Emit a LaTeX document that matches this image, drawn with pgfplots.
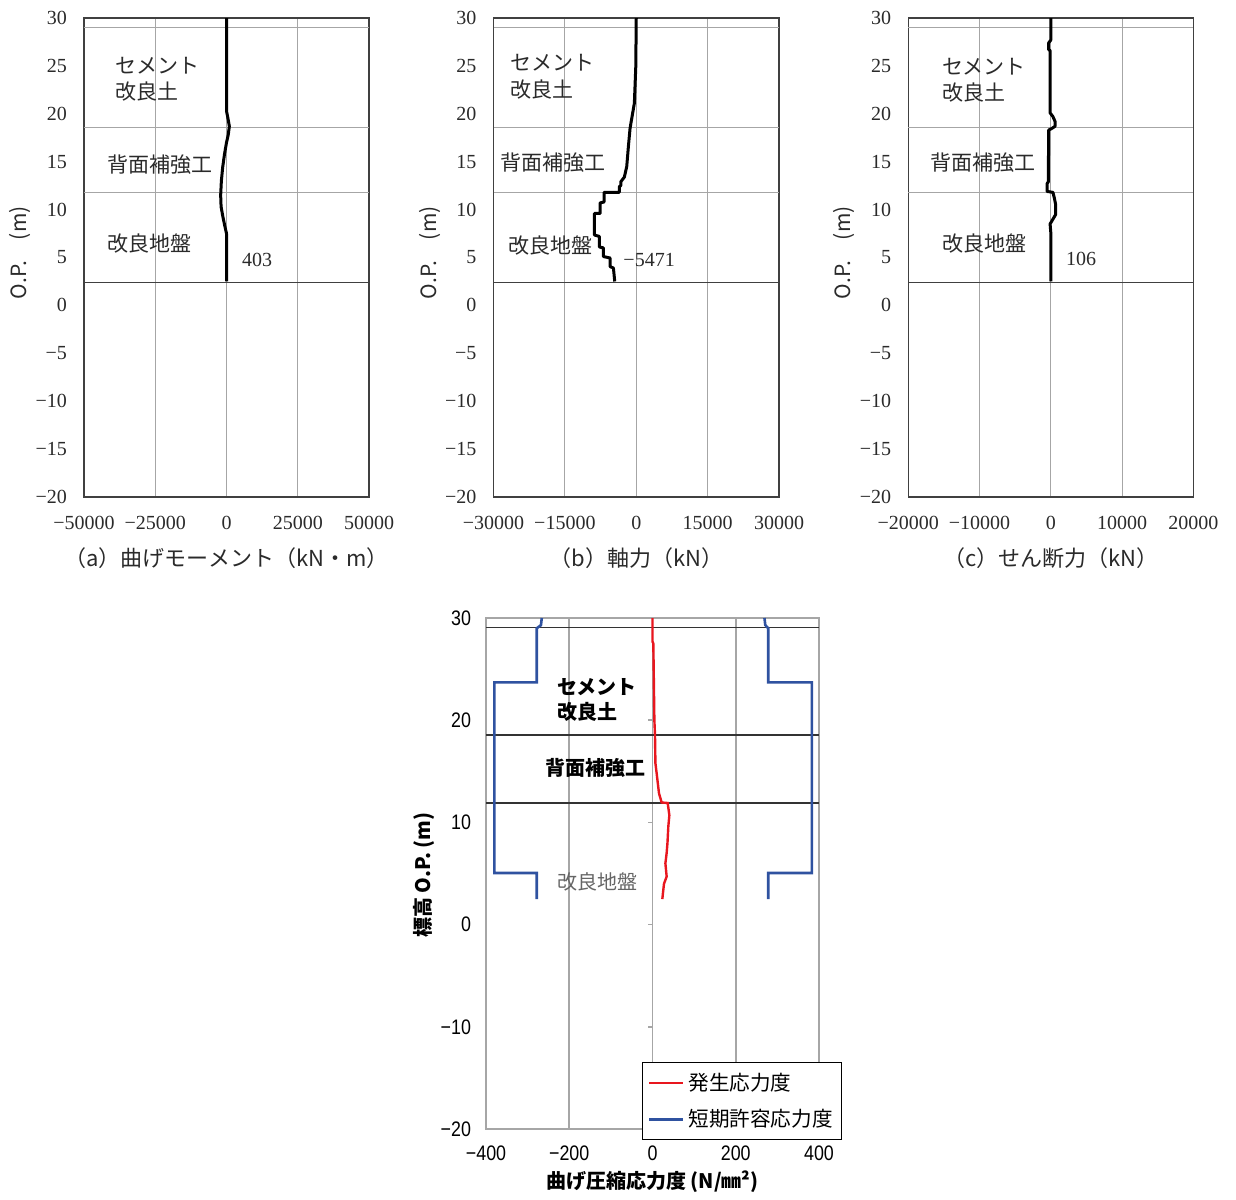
\documentclass[border=0pt]{standalone}
\usepackage{pgfplots}
\pgfplotsset{compat=1.18}
\usepackage{fontspec}
\setmainfont{Liberation Serif}
\newfontfamily\cjk{Noto Sans CJK JP}
\newfontfamily\sanc[FakeStretch=0.85]{Liberation Sans}
\definecolor{framec}{HTML}{404040}
\definecolor{gridc}{HTML}{A6A6A6}
\definecolor{bl}{HTML}{2F52A0}
\definecolor{rd}{HTML}{E8161E}
\definecolor{txt}{HTML}{2A2A2A}

\pgfplotsset{
 topstyle/.style={
  scale only axis, width=142.5pt, height=239.5pt,
  ymin=-20, ymax=30, ytick={-20,-15,...,30},
  yticklabels={−20,−15,−10,−5,0,5,10,15,20,25,30},
  scaled x ticks=false, scaled y ticks=false,
  axis line style={framec, line width=0.6pt},
  xmajorgrids, grid style={gridc, line width=0.5pt},
  major tick length=0pt,
  tick label style={font=\fontsize{10}{12}\selectfont, text=txt},
  yticklabel style={xshift=-5pt},
  xticklabel style={yshift=-6pt},
  clip=false,
 },
 curve/.style={black, line width=1.5pt, line join=round},
}
\newcommand\toplayers[2]{%
 \draw[gridc, line width=0.5pt] (axis cs:#1,29) -- (axis cs:#2,29);
 \draw[gridc, line width=0.5pt] (axis cs:#1,18.6) -- (axis cs:#2,18.6);
 \draw[gridc, line width=0.5pt] (axis cs:#1,11.8) -- (axis cs:#2,11.8);
 \draw[framec, line width=0.6pt] (axis cs:#1,2.4) -- (axis cs:#2,2.4);
}
\newcommand\jp{\cjk\fontsize{10.5}{13.4}\selectfont\color{txt}}
\newcommand\jps{\cjk\fontsize{11}{13}\selectfont\color{txt}}

\begin{document}
\begin{tikzpicture}
\path (0,0) rectangle (618pt,-598.5pt);

% (a)
\begin{axis}[topstyle, at={(42pt,-9pt)}, anchor=north west,
  xmin=-50000, xmax=50000, xtick={-50000,-25000,0,25000,50000},
  xticklabels={−50000,−25000,0,25000,50000}]
 \toplayers{-50000}{50000}
 \addplot[curve] coordinates {(0,30) (0,20.3) (400,19.7) (1000,18.7) (600,17.8) (0,17.0) (-700,15.8) (-1350,14.4) (-1800,13.0) (-2050,11.5) (-1900,10.3) (-1300,9.3) (-600,8.3) (0,7.5) (0,2.5)};
 \node[anchor=west, inner xsep=0pt, font=\jp, align=left] at (axis cs:-39100,23.6) {セメント\\改良土};
 \node[anchor=west, inner xsep=0pt, font=\jp] at (axis cs:-42000,14.65) {背面補強工};
 \node[anchor=west, inner xsep=0pt, font=\jp] at (axis cs:-42000,6.5) {改良地盤};
 \node[anchor=west, font=\fontsize{10}{12}\selectfont, text=txt, inner sep=0pt] at (axis cs:5300,4.74) {403};
 \node[rotate=90, font=\jp] at (rel axis cs:0,0.51) [yshift=32pt] {O.P.　(m)};
 \node[font=\jps] at (rel axis cs:0.5,0) [yshift=-30.5pt] {（a）曲げモーメント（kN・m）};
\end{axis}

% (b)
\begin{axis}[topstyle, at={(246.75pt,-9pt)}, anchor=north west, width=142.75pt,
  xmin=-30000, xmax=30000, xtick={-30000,-15000,0,15000,30000},
  xticklabels={−30000,−15000,0,15000,30000}]
 \toplayers{-30000}{30000}
 \addplot[curve] coordinates {(0,30) (-100,24.9) (-400,21.1) (-1300,18.5) (-1650,16.6) (-2000,14.5) (-2500,13.4) (-3250,12.9) (-3250,12.5) (-3550,12.4) (-3550,11.8) (-6760,11.8) (-6760,10.8) (-7600,10.7) (-7600,9.6) (-8800,9.6) (-8800,7.35) (-7750,7.2) (-7750,6.1) (-6900,6.0) (-6900,5.1) (-5500,4.95) (-5500,4.05) (-4800,3.9) (-4520,2.5)};
 \node[anchor=west, inner xsep=0pt, font=\jp, align=left] at (axis cs:-26500,23.9) {セメント\\改良土};
 \node[anchor=west, inner xsep=0pt, font=\jp] at (axis cs:-28600,14.9) {背面補強工};
 \node[anchor=west, inner xsep=0pt, font=\jp] at (axis cs:-27000,6.2) {改良地盤};
 \node[anchor=west, font=\fontsize{10}{12}\selectfont, text=txt, inner sep=0pt] at (axis cs:-2770,4.74) {−5471};
 \node[rotate=90, font=\jp] at (rel axis cs:0,0.51) [yshift=32pt] {O.P.　(m)};
 \node[font=\jps] at (rel axis cs:0.5,0) [yshift=-30.5pt] {（b）軸力（kN）};
\end{axis}

% (c)
\begin{axis}[topstyle, at={(454.15pt,-9pt)}, anchor=north west,
  xmin=-20000, xmax=20000, xtick={-20000,-10000,0,10000,20000},
  xticklabels={−20000,−10000,0,10000,20000}]
 \toplayers{-20000}{20000}
 \addplot[curve] coordinates {(0,30) (0,27.7) (-300,27.4) (-300,26.7) (-100,26.6) (-100,20.1) (300,19.7) (600,19.2) (600,18.7) (200,18.5) (-300,18.3) (-350,12.9) (-530,12.7) (-530,11.9) (300,11.8) (500,11.2) (690,10.5) (690,9.5) (-100,8.5) (0,7.6) (0,2.5)};
 \node[anchor=west, inner xsep=0pt, font=\jp, align=left] at (axis cs:-15300,23.5) {セメント\\改良土};
 \node[anchor=west, inner xsep=0pt, font=\jp] at (axis cs:-17000,14.9) {背面補強工};
 \node[anchor=west, inner xsep=0pt, font=\jp] at (axis cs:-15200,6.5) {改良地盤};
 \node[anchor=west, font=\fontsize{10}{12}\selectfont, text=txt, inner sep=0pt] at (axis cs:2100,4.9) {106};
 \node[rotate=90, font=\jp] at (rel axis cs:0,0.51) [yshift=32pt] {O.P.　(m)};
 \node[font=\jps] at (rel axis cs:0.5,0) [yshift=-30.5pt] {（c）せん断力（kN）};
\end{axis}

% bottom
\begin{axis}[at={(243pt,-309pt)}, anchor=north west,
  scale only axis, width=166.5pt, height=255.5pt,
  xmin=-400, xmax=400, ymin=-20, ymax=30,
  xtick={-400,-200,0,200,400}, xticklabels={−400,−200,0,200,400},
  ytick={-20,-10,...,30}, yticklabels={−20,−10,0,10,20,30},
  axis line style={gridc, line width=0.8pt},
  xmajorgrids, grid style={gridc, line width=0.8pt},
  major tick length=0pt,
  tick label style={font=\sanc\fontsize{10.5}{12}\selectfont},
  yticklabel style={xshift=-4pt},
  xticklabel style={yshift=-5pt},
  clip=false,
  legend style={at={(0.4685,0.131)}, anchor=north west, draw=black, line width=0.7pt,
    font=\cjk\fontsize{10.3}{12}\selectfont, inner xsep=2.5pt, inner ysep=3pt, row sep=4pt},
  legend cell align=left,
  legend image code/.code={\draw[#1, line width=1.4pt] (0pt,0pt) -- (17pt,0pt);},
 ]
 \draw[gridc, line width=0.8pt] (axis cs:0,20) -- ++(-2.5pt,0pt);
 \draw[gridc, line width=0.8pt] (axis cs:0,10) -- ++(-2.5pt,0pt);
 \draw[gridc, line width=0.8pt] (axis cs:0,0) -- ++(-2.5pt,0pt);
 \draw[gridc, line width=0.8pt] (axis cs:0,-10) -- ++(-2.5pt,0pt);
 \draw[black!80, line width=0.6pt] (axis cs:-400,29.1) -- (axis cs:400,29.1);
 \draw[black!80, line width=0.6pt] (axis cs:-400,18.55) -- (axis cs:400,18.55);
 \draw[black!80, line width=0.6pt] (axis cs:-400,11.9) -- (axis cs:400,11.9);
 \addplot[rd, line width=1.2pt] coordinates {(0,30) (0,27.7) (2,27.5) (4.5,20) (6,18.55) (7,15.8) (10,14.8) (15.6,12.85) (22,11.95) (36.5,11.9) (40.5,10.7) (38,9.6) (36,8) (34,7) (31,6) (34,4.7) (27.6,4.0) (23.6,2.5)};
 \addlegendentry{発生応力度}
 \addplot[bl, line width=1.3pt] coordinates {(-266,30) (-268,29.3) (-278,29.0) (-278,23.7) (-380,23.7) (-380,5.05) (-278,5.05) (-278,2.5)};
 \addlegendentry{短期許容応力度}
 \addplot[bl, line width=1.3pt, forget plot] coordinates {(269,30) (271,29.3) (278,29.0) (278,23.7) (383,23.7) (383,5.05) (278,5.05) (278,2.5)};
 \node[anchor=west, inner xsep=0pt, font=\cjk\bfseries\fontsize{10}{12.3}\selectfont, align=left] at (axis cs:-230,22.0) {セメント\\改良土};
 \node[anchor=west, inner xsep=0pt, font=\cjk\bfseries\fontsize{10}{12}\selectfont] at (axis cs:-258,15.3) {背面補強工};
 \node[anchor=west, inner xsep=0pt, font=\cjk\fontsize{10}{12}\selectfont, text=black!60] at (axis cs:-230,4.2) {改良地盤};
 \node[rotate=90, font=\cjk\bfseries\fontsize{10}{12}\selectfont] at (rel axis cs:0,0.497) [yshift=31pt] {標高 O.P. (m)};
 \node[font=\cjk\bfseries\fontsize{10}{12}\selectfont] at (rel axis cs:0.5,0) [yshift=-26.5pt] {曲げ圧縮応力度 (N/㎜²)};
\end{axis}
\end{tikzpicture}
\end{document}
